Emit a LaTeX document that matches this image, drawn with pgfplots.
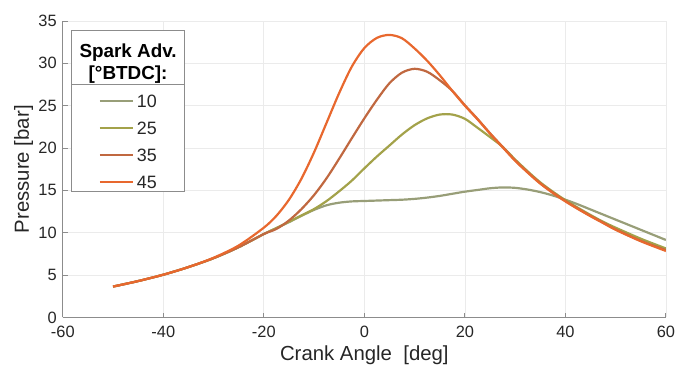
\documentclass[border=0pt]{standalone}
\usepackage{fontspec}
\setmainfont{Liberation Sans}
\usepackage{pgfplots}
\usepackage{pgfplotstable}
\pgfplotsset{compat=1.18}
\definecolor{c10}{HTML}{989E78}
\definecolor{c25}{HTML}{A3A24A}
\definecolor{c35}{HTML}{C06840}
\definecolor{c45}{HTML}{E8682E}
\definecolor{axisgray}{HTML}{8C8C8C}
\definecolor{gridgray}{HTML}{EBEBEB}
\definecolor{txt}{HTML}{262626}
\pgfplotstableread{
x      a10    a25    a35    a45
-50    3.65   3.65   3.65   3.65
-45    4.30   4.30   4.30   4.30
-40    5.05   5.05   5.05   5.05
-35    5.95   5.95   5.95   5.95
-30    7.00   7.00   7.00   7.05
-25    8.30   8.30   8.30   8.50
-20    9.85   9.85   9.85   10.6
-17.5  10.55  10.55  10.45  12.0
-15    11.25  11.30  11.45  13.9
-12.5  12.00  12.05  12.80  16.4
-10    12.70  12.80  14.45  19.5
-7.5   13.25  13.75  16.45  23.0
-5     13.55  14.90  18.75  26.5
-2.5   13.70  16.15  21.15  29.6
0      13.75  17.60  23.50  31.8
2.5    13.80  19.00  25.70  33.0
5      13.85  20.30  27.65  33.35
7.5    13.90  21.60  28.90  32.95
10     14.00  22.70  29.35  31.75
12.5   14.15  23.50  29.00  30.3
15     14.35  23.95  28.00  28.6
17.5   14.60  23.95  26.75  26.75
20     14.85  23.45  25.05  25.0
22.5   15.05  22.40  23.45  23.4
25     15.25  21.30  21.75  21.7
27.5   15.35  20.15  20.15  20.1
30     15.30  18.65  18.55  18.5
32.5   15.10  17.25  17.15  17.1
35     14.80  15.95  15.85  15.8
37.5   14.40  14.85  14.75  14.7
40     13.90  13.85  13.75  13.7
42.5   13.35  12.95  12.85  12.8
45     12.75  12.10  12.00  11.95
47.5   12.15  11.30  11.20  11.15
50     11.55  10.60  10.40  10.35
55     10.35  9.30   9.05   9.0
60     9.15   8.15   7.95   7.85
}\datatable
\begin{document}
\begin{tikzpicture}
\begin{axis}[
  scale only axis, width=605bp, height=297.5bp,
  xmin=-60, xmax=60, ymin=0, ymax=35,
  xtick={-60,-40,...,60}, ytick={0,5,...,35},
  axis lines*=left,
  axis line style={-, draw=axisgray, line width=0.8bp},
  tick align=inside, major tick length=5bp,
  tick style={draw=axisgray, line width=0.8bp},
  grid=major, grid style={draw=gridgray, line width=0.7bp},
  /pgf/number format/assume math mode=true,
  ticklabel style={font=\fontsize{16.5}{16.5}\selectfont, text=txt, inner sep=0pt},
  xticklabel style={anchor=north, yshift=-8bp},
  yticklabel style={anchor=east, xshift=-6bp},
  xlabel={Crank Angle\ \ [deg]},
  ylabel={Pressure [bar]},
  label style={font=\fontsize{20.5}{20.5}\selectfont, text=txt, inner sep=0pt},
  xlabel style={at={(axis description cs:0.5,0)}, anchor=base, yshift=-43.5bp},
  ylabel style={at={(axis description cs:0,0.5)}, anchor=base, rotate=0, yshift=34bp},
  legend style={at={(axis description cs:0.0595,0.753)}, anchor=north west,
    draw=none, fill=none, inner sep=0pt, row sep=14bp, column sep=3bp,
    font=\fontsize{18}{18}\selectfont, text=txt,
    nodes={inner sep=0pt, text height=13bp, text depth=0pt, anchor=center}},
  legend cell align=left,
  legend image code/.code={\draw[#1] (0bp,0bp) -- (33bp,0bp);},
  every axis plot/.append style={line width=2.2bp, smooth},
]
\draw[draw=axisgray, line width=0.8bp, fill=white, shift={(rel axis cs:0,1)}] (9bp,-9bp) rectangle (122bp,-171bp);
\draw[draw=axisgray, line width=0.8bp, shift={(rel axis cs:0,1)}] (9bp,-64bp) -- (122bp,-64bp);
\node[shift={(rel axis cs:0,1)}, align=center, text=black, inner sep=0pt, font=\fontsize{19}{22}\selectfont\bfseries] at (65.5bp,-43bp) {Spark Adv.\\{[}°BTDC{]}:};
\addplot[c10] table[x=x, y=a10] {\datatable};
\addlegendentry{10}
\addplot[c25] table[x=x, y=a25] {\datatable};
\addlegendentry{25}
\addplot[c35] table[x=x, y=a35] {\datatable};
\addlegendentry{35}
\addplot[c45] table[x=x, y=a45] {\datatable};
\addlegendentry{45}
\end{axis}
\path ([shift={(-63bp,-52.5bp)}]current axis.south west) rectangle ([shift={(7bp,21bp)}]current axis.north east);
\end{tikzpicture}
\end{document}
